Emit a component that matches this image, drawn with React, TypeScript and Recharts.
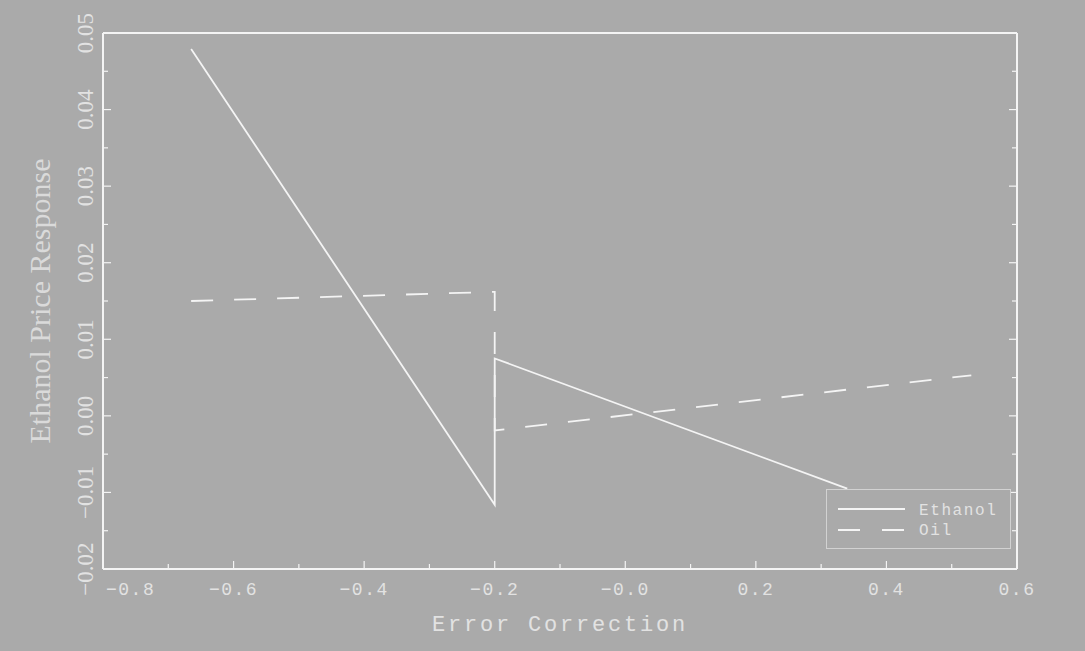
import React from "react";
import { LineChart, Line, XAxis, YAxis, Legend } from "recharts";

// series (x = error correction term, y = response)
const ethanolX = [-0.665, -0.2, -0.2, 0.34];
const ethanolY = [0.0479, -0.0116, 0.0075, -0.0095];
const oilX = [-0.665, -0.2, -0.2, 0.53];
const oilY = [0.015, 0.0162, -0.0019, 0.0053];

const xMajor = [-0.8, -0.6, -0.4, -0.2, 0, 0.2, 0.4, 0.6];
const xMinor = [-0.7, -0.5, -0.3, -0.1, 0.1, 0.3, 0.5];
const xTickLabels = ["−0.8", "−0.6", "−0.4", "−0.2", "−0.0", "0.2", "0.4", "0.6"];

const yMajor = [-0.02, -0.01, 0, 0.01, 0.02, 0.03, 0.04, 0.05];
const yMinor = [-0.015, -0.005, 0.005, 0.015, 0.025, 0.035, 0.045];
const yTickLabels = ["−0.02", "−0.01", "0.00", "0.01", "0.02", "0.03", "0.04", "0.05"];

const legendItems = [
  { name: "Ethanol", dash: undefined as string | undefined },
  { name: "Oil", dash: "22 22" },
];

const W = 1085;
const H = 651;
const BG = "#aaaaaa";
const FG = "#f4f4f4";
const TXT = "#e2e2e2";
const MONO = "'Liberation Mono', 'DejaVu Sans Mono', monospace";
const SERIF = "'Liberation Serif', 'DejaVu Serif', serif";

// plot box in page pixels
const PL = 103;
const PR = 1017;
const PT = 33;
const PB = 569;

const ethanolData = ethanolX.map((x, i) => ({ x, y: ethanolY[i] }));
const oilData = oilX.map((x, i) => ({ x, y: oilY[i] }));

const MAJ = 8;
const MIN = 5;

const isMajor = (list: number[], v: number) => list.some((m) => Math.abs(m - v) < 1e-9);

function BottomTick(props: any) {
  const { x, y, payload } = props;
  const major = isMajor(xMajor, payload.value);
  const idx = xMajor.findIndex((m) => Math.abs(m - payload.value) < 1e-9);
  return (
    <g>
      <line x1={x} y1={y} x2={x} y2={y - (major ? MAJ : MIN)} stroke={FG} strokeWidth={1.2} />
      {major && (
        <text
          x={idx === 0 ? x + 3 : x}
          y={y + 26}
          textAnchor={idx === 0 ? "start" : "middle"}
          fill={TXT}
          fontFamily={MONO}
          fontSize={18}
          letterSpacing={1.5}
        >
          {xTickLabels[idx]}
        </text>
      )}
    </g>
  );
}

function TopTick(props: any) {
  const { x, y, payload } = props;
  const major = isMajor(xMajor, payload.value);
  return <line x1={x} y1={y} x2={x} y2={y + (major ? MAJ : MIN)} stroke={FG} strokeWidth={1.2} />;
}

function LeftTick(props: any) {
  const { x, y, payload } = props;
  const major = isMajor(yMajor, payload.value);
  const idx = yMajor.findIndex((m) => Math.abs(m - payload.value) < 1e-9);
  const lx = 93;
  return (
    <g>
      <line x1={x} y1={y} x2={x + (major ? MAJ : MIN)} y2={y} stroke={FG} strokeWidth={1.2} />
      {major && (
        <text
          x={lx}
          y={y}
          transform={`rotate(-90, ${lx}, ${y})`}
          textAnchor="middle"
          fill={TXT}
          fontFamily={SERIF}
          fontSize={23}
        >
          {yTickLabels[idx]}
        </text>
      )}
    </g>
  );
}

function RightTick(props: any) {
  const { x, y, payload } = props;
  const major = isMajor(yMajor, payload.value);
  return <line x1={x} y1={y} x2={x - (major ? MAJ : MIN)} y2={y} stroke={FG} strokeWidth={1.2} />;
}

function LegendBox() {
  return (
    <svg width={185} height={60} style={{ display: "block" }}>
      <rect x={0.5} y={0.5} width={184} height={59} fill={BG} stroke="#d2d2d2" strokeWidth={1} />
      {legendItems.map((it, i) => (
        <g key={it.name}>
          <line
            x1={12}
            x2={79}
            y1={20 + i * 21}
            y2={20 + i * 21}
            stroke={FG}
            strokeWidth={1.8}
            strokeDasharray={it.dash}
          />
          <text x={93} y={26 + i * 20} fill={TXT} fontFamily={MONO} fontSize={16} letterSpacing={1.6}>
            {it.name}
          </text>
        </g>
      ))}
    </svg>
  );
}

export default function App() {
  const frame = { stroke: FG, strokeWidth: 2 };
  return (
    <div style={{ position: "absolute", left: 0, top: 0, width: W, height: H, background: BG }}>
      <LineChart
        width={W}
        height={H}
        margin={{ top: PT - 10, right: W - PR - 10, bottom: H - PB - 40, left: PL - 60 }}
      >
        <XAxis
          xAxisId="b"
          type="number"
          dataKey="x"
          orientation="bottom"
          domain={[-0.8, 0.6]}
          allowDataOverflow
          ticks={[...xMajor, ...xMinor]}
          interval={0}
          height={40}
          tickSize={0}
          tickMargin={0}
          tickLine={false}
          axisLine={frame}
          tick={<BottomTick />}
          label={{
            content: () => (
              <text
                x={(PL + PR) / 2}
                y={631}
                textAnchor="middle"
                fill={TXT}
                fontFamily={MONO}
                fontSize={22}
                letterSpacing={2.8}
              >
                Error Correction
              </text>
            ),
          }}
        />
        <XAxis
          xAxisId="t"
          type="number"
          orientation="top"
          domain={[-0.8, 0.6]}
          allowDataOverflow
          ticks={[...xMajor, ...xMinor]}
          interval={0}
          height={10}
          tickSize={0}
          tickMargin={0}
          tickLine={false}
          axisLine={frame}
          tick={<TopTick />}
        />
        <YAxis
          yAxisId="l"
          type="number"
          dataKey="y"
          orientation="left"
          domain={[-0.02, 0.05]}
          allowDataOverflow
          ticks={[...yMajor, ...yMinor]}
          interval={0}
          width={60}
          tickSize={0}
          tickMargin={0}
          tickLine={false}
          axisLine={frame}
          tick={<LeftTick />}
          label={{
            content: () => (
              <text
                x={50}
                y={(PT + PB) / 2}
                transform={`rotate(-90, 50, ${(PT + PB) / 2})`}
                textAnchor="middle"
                fill="#dadada"
                fontFamily={SERIF}
                fontSize={30}
              >
                Ethanol Price Response
              </text>
            ),
          }}
        />
        <YAxis
          yAxisId="r"
          type="number"
          orientation="right"
          domain={[-0.02, 0.05]}
          allowDataOverflow
          ticks={[...yMajor, ...yMinor]}
          interval={0}
          width={10}
          tickSize={0}
          tickMargin={0}
          tickLine={false}
          axisLine={frame}
          tick={<RightTick />}
        />
        <Line
          xAxisId="b"
          yAxisId="l"
          data={ethanolData}
          dataKey="y"
          name="Ethanol"
          type="linear"
          stroke={FG}
          strokeWidth={1.8}
          dot={false}
          activeDot={false}
          isAnimationActive={false}
        />
        <Line
          xAxisId="b"
          yAxisId="l"
          data={oilData}
          dataKey="y"
          name="Oil"
          type="linear"
          stroke={FG}
          strokeWidth={1.8}
          strokeDasharray="22 21"
          dot={false}
          activeDot={false}
          isAnimationActive={false}
        />
        <Legend
          layout="vertical"
          align="center"
          verticalAlign="middle"
          content={() => <LegendBox />}
          wrapperStyle={{ position: "absolute", left: 826, top: 489, width: 185, height: 60 }}
        />
      </LineChart>
    </div>
  );
}
